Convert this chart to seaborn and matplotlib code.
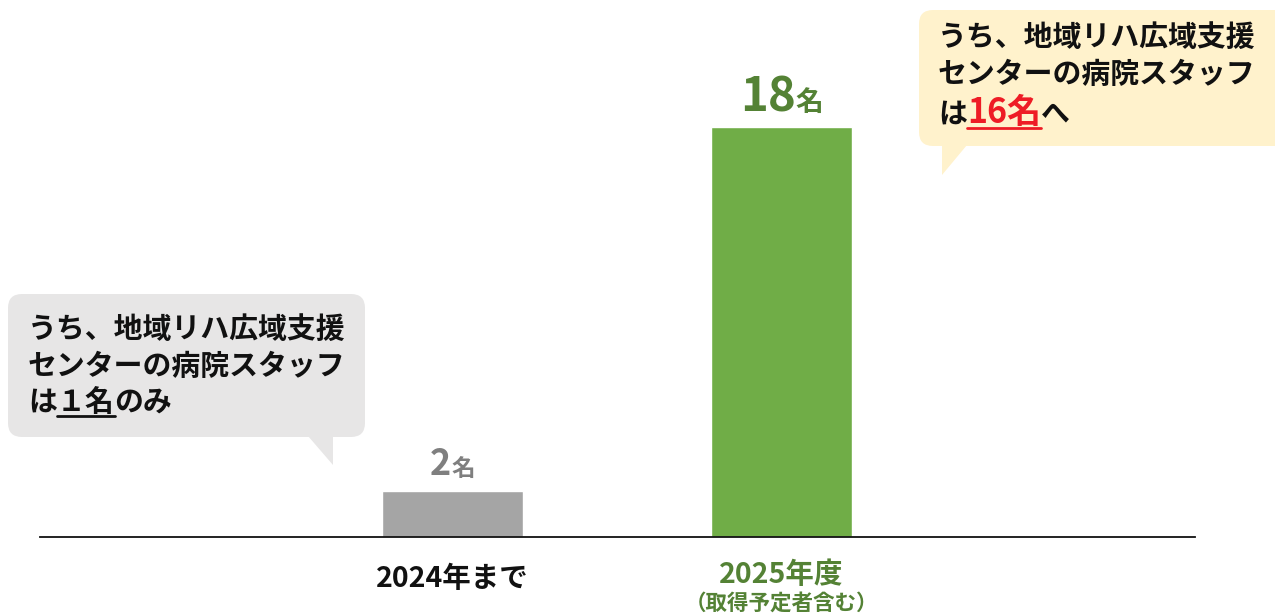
import matplotlib
matplotlib.use("Agg")
import matplotlib.pyplot as plt
import matplotlib.transforms as mtransforms
from matplotlib.patches import FancyBboxPatch, Polygon
from matplotlib.lines import Line2D
import seaborn as sns
import pandas as pd

# data
periods = ["2024年まで", "2025年度"]
staff = [2, 18]
period_notes = ["", "（取得予定者含む）"]
bar_colors = ["#a5a5a5", "#70ad47"]
value_colors = ["#7f7f7f", "#548235"]
period_colors = ["#111111", "#548235"]
callout_lines = ["うち、地域リハ広域支援", "センターの病院スタッフ"]
before_count = "１名"
after_count = "16名"

sns.set_theme(style="white")
plt.rcParams["font.family"] = ["Noto Sans CJK JP", "DejaVu Sans"]

W, H = 1275, 616
fig = plt.figure(figsize=(W / 100, H / 100), dpi=100)
ax = fig.add_axes([40 / W, 79 / H, 1155 / W, 537 / H])

df = pd.DataFrame({"period": periods, "staff": staff})
sns.barplot(data=df, x="period", y="staff", hue="period", palette=bar_colors,
            saturation=1, width=0.43, legend=False, ax=ax)
ax.set_xlim(-1.254, 2.257)
ax.set_ylim(0, 23.6)
ax.set_xticks([])
ax.set_yticks([])
ax.set_xlabel("")
ax.set_ylabel("")
for s in ["top", "left", "right"]:
    ax.spines[s].set_visible(False)
ax.spines["bottom"].set_color("#111111")
ax.spines["bottom"].set_linewidth(1.3)

# pixel coords, y down from top
pix = mtransforms.Affine2D().scale(1, -1).translate(0, H)
renderer = fig.canvas.get_renderer()


def rich(x, y, pieces, ha="left"):
    arts = []
    cx = x
    for s, size, color, ul in pieces:
        t = fig.text(cx, y, s, transform=pix, fontsize=size, color=color,
                     fontweight="bold", va="baseline", ha="left")
        w = t.get_window_extent(renderer).width
        arts.append((t, cx, w, ul))
        cx += w
    shift = {"left": 0, "center": -(cx - x) / 2, "right": -(cx - x)}[ha]
    for t, x0, w, ul in arts:
        t.set_x(x0 + shift)
        if ul:
            fig.add_artist(Line2D([x0 + shift, x0 + shift + w], [y + 5, y + 5],
                                  transform=pix, color=t.get_color(), lw=2))


def to_pix(xd, yd):
    dx, dy = ax.transData.transform((xd, yd))
    return dx, H - dy


# value labels above the bars
label_sizes = [(26, 17), (34, 20)]
for i, v in enumerate(staff):
    bx, by = to_pix(i, v)
    big, small = label_sizes[i]
    rich(bx, by - 16, [(str(v), big, value_colors[i], False),
                       ("名", small, value_colors[i], False)], ha="center")

# category labels
for i, p in enumerate(periods):
    bx, _ = to_pix(i, 0)
    ybase = 587 if not period_notes[i] else 583
    fig.text(bx, ybase, p, transform=pix, fontsize=20.5, color=period_colors[i],
             fontweight="bold", ha="center", va="baseline")
    if period_notes[i]:
        fig.text(bx, 610, period_notes[i], transform=pix, fontsize=15.5,
                 color=period_colors[i], fontweight="bold", ha="center", va="baseline")

# gray callout
fig.add_artist(FancyBboxPatch((8, 294), 357, 143, boxstyle="round,pad=0,rounding_size=14",
                              transform=pix, fc="#e7e6e6", ec="none"))
fig.add_artist(Polygon([(308, 436), (333, 436), (333, 465)], closed=True,
                       transform=pix, fc="#e7e6e6", ec="none"))
for k, line in enumerate(callout_lines):
    fig.text(28, 338 + 37 * k, line, transform=pix, fontsize=20.8, color="#111111",
             fontweight="bold", va="baseline")
rich(28, 411, [("は", 20.8, "#111111", False), (before_count, 20.8, "#111111", True),
               ("のみ", 20.8, "#111111", False)])

# yellow callout
fig.add_artist(FancyBboxPatch((919, 10), 380, 136, boxstyle="round,pad=0,rounding_size=14",
                              transform=pix, fc="#fff2cc", ec="none"))
fig.add_artist(Polygon([(942, 145), (967, 145), (942, 175)], closed=True,
                       transform=pix, fc="#fff2cc", ec="none"))
for k, line in enumerate(callout_lines):
    fig.text(938, 46 + 37 * k, line, transform=pix, fontsize=20.8, color="#111111",
             fontweight="bold", va="baseline")
rich(938, 123, [("は", 20.8, "#111111", False), (after_count, 24.5, "#ee1c25", True),
                ("へ", 20.8, "#111111", False)])

fig.savefig("out.png", dpi=100)
